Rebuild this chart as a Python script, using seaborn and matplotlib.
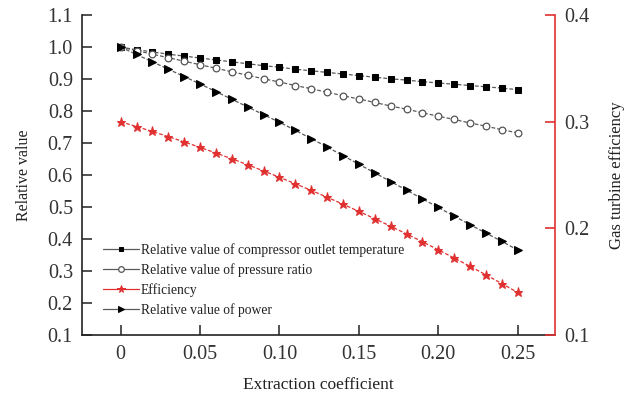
import matplotlib
matplotlib.use("Agg")
import matplotlib.pyplot as plt
import seaborn as sns
import pandas as pd

extraction = [0.00, 0.01, 0.02, 0.03, 0.04, 0.05, 0.06, 0.07, 0.08, 0.09, 0.10, 0.11, 0.12,
              0.13, 0.14, 0.15, 0.16, 0.17, 0.18, 0.19, 0.20, 0.21, 0.22, 0.23, 0.24, 0.25]
compressor_temp = [1.000, 0.992, 0.985, 0.978, 0.972, 0.966, 0.960, 0.954, 0.948, 0.942, 0.937, 0.931, 0.926,
                   0.921, 0.916, 0.911, 0.906, 0.901, 0.897, 0.892, 0.888, 0.884, 0.880, 0.876, 0.872, 0.867]
pressure_ratio = [1.000, 0.989, 0.978, 0.967, 0.956, 0.945, 0.934, 0.923, 0.912, 0.901, 0.891, 0.880, 0.870,
                  0.859, 0.848, 0.838, 0.827, 0.816, 0.806, 0.795, 0.784, 0.774, 0.763, 0.753, 0.742, 0.732]
power = [1.000, 0.977, 0.954, 0.931, 0.908, 0.885, 0.861, 0.837, 0.813, 0.789, 0.765, 0.740, 0.714,
         0.688, 0.661, 0.634, 0.607, 0.580, 0.553, 0.526, 0.499, 0.472, 0.445, 0.419, 0.393, 0.366]
efficiency = [0.3000, 0.2955, 0.2909, 0.2861, 0.2811, 0.2760, 0.2707, 0.2653, 0.2597, 0.2539, 0.2480,
              0.2419, 0.2357, 0.2293, 0.2227, 0.2160, 0.2091, 0.2021, 0.1949, 0.1875, 0.1800, 0.1723,
              0.1645, 0.1565, 0.1483, 0.1400]

x_ticks = [0, 0.05, 0.10, 0.15, 0.20, 0.25]
x_ticklabels = ["0", "0.05", "0.10", "0.15", "0.20", "0.25"]
left_ticks = [0.1, 0.2, 0.3, 0.4, 0.5, 0.6, 0.7, 0.8, 0.9, 1.0, 1.1]
right_ticks = [0.1, 0.2, 0.3, 0.4]

labels = {
    "temp": "Relative value of compressor outlet temperature",
    "pr": "Relative value of pressure ratio",
    "eff": "Efficiency",
    "pow": "Relative value of power",
}

df = pd.DataFrame({"x": extraction, "temp": compressor_temp, "pr": pressure_ratio,
                   "pow": power, "eff": efficiency})

sns.set_style("ticks")
plt.rcParams["font.family"] = ["Liberation Serif", "DejaVu Serif"]

fig = plt.figure(figsize=(6.35, 3.98), dpi=100)
ax = fig.add_axes([0.129, 0.158, 0.745, 0.804])
ax2 = ax.twinx()

line_col = "#5a5a5a"
red = "#e03030"
dash = (3, 1.6)
sns.lineplot(data=df, x="x", y="temp", ax=ax, color=line_col, linewidth=0.9,
             marker="s", markersize=4.2, markerfacecolor="black", markeredgecolor="black",
             label=labels["temp"], legend=False).lines[-1].set_dashes(dash)
sns.lineplot(data=df, x="x", y="pr", ax=ax, color=line_col, linewidth=0.9,
             marker="o", markersize=4.8, markerfacecolor="white", markeredgecolor="#555555",
             markeredgewidth=0.9, label=labels["pr"], legend=False).lines[-1].set_dashes(dash)
sns.lineplot(data=df, x="x", y="pow", ax=ax, color=line_col, linewidth=0.9,
             marker=">", markersize=5.2, markerfacecolor="black", markeredgecolor="black",
             label=labels["pow"], legend=False).lines[-1].set_dashes(dash)
sns.lineplot(data=df, x="x", y="eff", ax=ax2, color=red, linewidth=0.9,
             marker="*", markersize=6.5, markerfacecolor=red, markeredgecolor=red,
             label=labels["eff"], legend=False).lines[-1].set_dashes(dash)

ax.set_xlim(-0.0244, 0.2735)
ax.set_ylim(0.1, 1.1)
ax2.set_ylim(0.1, 0.4)

ax.set_xticks(x_ticks)
ax.set_xticklabels(x_ticklabels)
ax.set_yticks(left_ticks)
ax.set_yticklabels([f"{v:.1f}" for v in left_ticks])
ax2.set_yticks(right_ticks)
ax2.set_yticklabels([f"{v:.1f}" for v in right_ticks])

tick_col = "#333333"
ax.tick_params(axis="both", direction="in", length=7, width=1.2, labelsize=14.5, colors=tick_col, pad=6.5)
ax.tick_params(axis="x", pad=7)
ax2.tick_params(axis="y", direction="in", length=7, width=1.2, labelsize=14.5, colors=red,
                labelcolor=tick_col, pad=7)

for a in (ax, ax2):
    a.spines["top"].set_visible(False)
ax.spines["left"].set_color("#222222")
ax.spines["bottom"].set_color("#222222")
ax.spines["left"].set_linewidth(1.2)
ax.spines["bottom"].set_linewidth(1.2)
ax.spines["right"].set_visible(False)
ax2.spines["left"].set_visible(False)
ax2.spines["bottom"].set_visible(False)
ax2.spines["right"].set_color(red)
ax2.spines["right"].set_linewidth(1.2)

ax.set_xlabel("Extraction coefficient", fontsize=12.5, color="#222222")
ax.set_ylabel("Relative value", fontsize=11.5, color="#222222")
ax2.set_ylabel("Gas turbine efficiency", fontsize=12, color="#222222")
ax.xaxis.set_label_coords(0.5, -0.13)
ax.yaxis.set_label_coords(-0.105, 0.5)
ax2.yaxis.set_label_coords(1.115, 0.5)

h1, l1 = ax.get_legend_handles_labels()
h2, l2 = ax2.get_legend_handles_labels()
order = [h1[0], h1[1], h2[0], h1[2]]
order_l = [l1[0], l1[1], l2[0], l1[2]]
leg = ax.legend(order, order_l, loc="lower left", bbox_to_anchor=(0.044, 0.058), frameon=False,
                fontsize=9.8, handlelength=2.7, handletextpad=0.1, labelspacing=0.45,
                borderaxespad=0, borderpad=0, markerscale=0.85)
for lh in leg.get_lines():
    lh.set_linestyle("-")
for t in leg.get_texts():
    t.set_color("#222222")

fig.savefig("out.png", dpi=100)
